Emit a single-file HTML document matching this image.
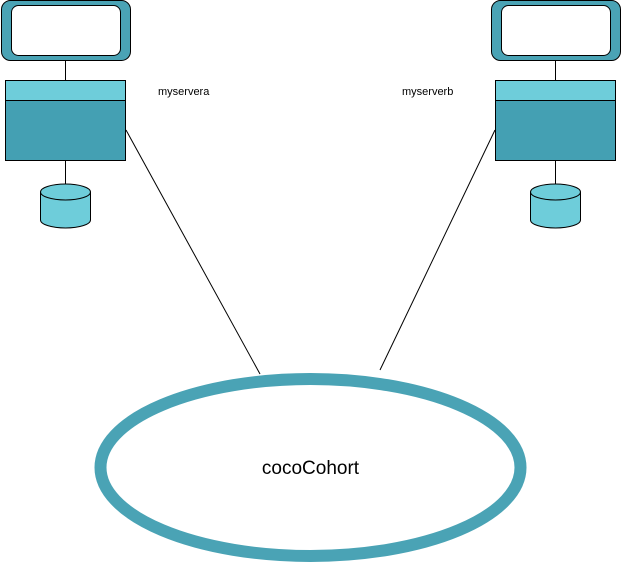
<!DOCTYPE html>
<html><head><meta charset="utf-8"><style>
html,body{margin:0;padding:0;background:#fff;width:621px;height:563px;overflow:hidden}
svg{display:block}
text{font-family:"Liberation Sans",Arial,sans-serif}
</style></head><body>
<svg width="621" height="563" viewBox="0 0 621 563" xmlns="http://www.w3.org/2000/svg">
<defs>
<g id="node">
  <rect x="1.5" y="0.5" width="129" height="60" rx="9" fill="#4aa3b5" stroke="#000" stroke-width="1"/>
  <rect x="11.5" y="5.5" width="109" height="50" rx="7" fill="#fff" stroke="#000" stroke-width="1"/>
  <line x1="65.5" y1="60.5" x2="65.5" y2="80.5" stroke="#000"/>
  <rect x="5.5" y="80.5" width="120" height="80" fill="#44a0b3" stroke="#000"/>
  <rect x="5.5" y="80.5" width="120" height="20" fill="#6ecdda" stroke="#000"/>
  <line x1="65.5" y1="160.5" x2="65.5" y2="185" stroke="#000"/>
  <path d="M40.5 192 L40.5 220 A25 8 0 0 0 90.5 220 L90.5 192" fill="#6ecdda" stroke="#000"/>
  <ellipse cx="65.5" cy="192" rx="25" ry="8" fill="#6ecdda" stroke="#000"/>
</g>
</defs>
<use href="#node"/>
<use href="#node" transform="translate(490,0)"/>
<text x="158" y="95" font-size="11" fill="#000">myservera</text>
<text x="402" y="95" font-size="11" fill="#000">myserverb</text>
<line x1="126" y1="130" x2="260" y2="374" stroke="#000" stroke-width="1"/>
<line x1="495" y1="130" x2="380" y2="370" stroke="#000" stroke-width="1"/>
<ellipse cx="310.5" cy="467.5" rx="210" ry="88.5" fill="#fff" stroke="#4aa3b5" stroke-width="12"/>
<text x="310.5" y="474" font-size="19" text-anchor="middle" fill="#000">cocoCohort</text>
</svg>
</body></html>
